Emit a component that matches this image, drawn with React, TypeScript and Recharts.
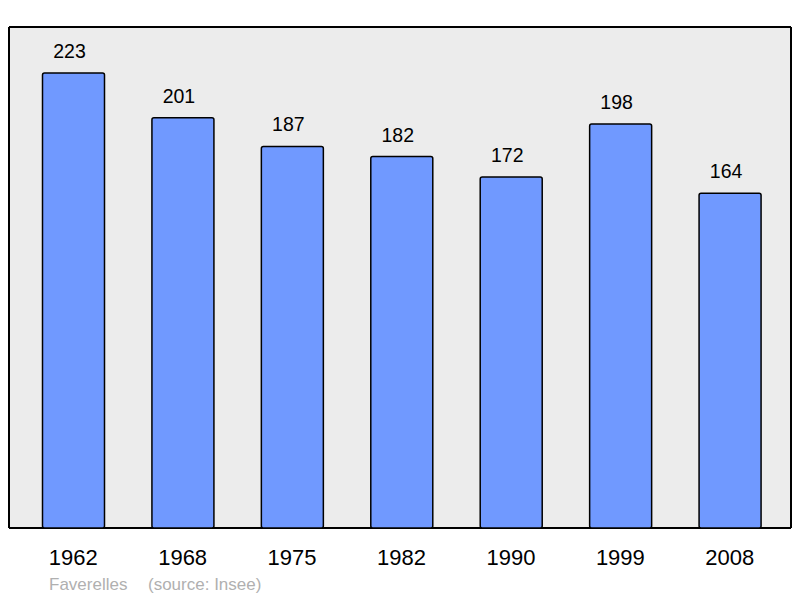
import React from "react";
import { BarChart, Bar, XAxis, YAxis, LabelList, CartesianGrid } from "recharts";

const years = ["1962", "1968", "1975", "1982", "1990", "1999", "2008"];
const population = [223, 201, 187, 182, 172, 198, 164];
const commune = "Faverelles";
const source = "(source: Insee)";
const yMax = 245.5;

const data = years.map((y, i) => ({ year: y, value: population[i] }));

const FONT = "'Liberation Sans', Arial, sans-serif";

const YearTick = (props: any) => {
  const { x, payload } = props;
  return (
    <text x={x} y={565} textAnchor="middle" fontSize={22} fontFamily={FONT} fill="#000">
      {payload.value}
    </text>
  );
};

const hFrame = (p: any) => {
  const o = p.offset;
  return [o.top, o.top + o.height];
};
const vFrame = (p: any) => {
  const o = p.offset;
  return [o.left, o.left + o.width];
};

export default function App() {
  return (
    <div style={{ position: "absolute", left: 0, top: 0, width: 800, height: 598, background: "#fff" }}>
      <BarChart
        width={800}
        height={598}
        data={data}
        margin={{ top: 27, right: 9, bottom: 40, left: 9 }}
      >
        <CartesianGrid
          fill="#ececec"
          stroke="#000"
          strokeWidth={2}
          horizontalCoordinatesGenerator={hFrame}
          verticalCoordinatesGenerator={vFrame}
          syncWithTicks={false}
        />
        <XAxis
          dataKey="year"
          axisLine={false}
          tickLine={false}
          height={30}
          tick={<YearTick />}
          padding={{ left: 9.5, right: 6.5 }}
          interval={0}
        />
        <YAxis hide domain={[0, yMax]} />
        <Bar
          dataKey="value"
          fill="#7099ff"
          stroke="#000"
          strokeWidth={1.5}
          barSize={62}
          radius={2}
          isAnimationActive={false}
        >
          <LabelList
            dataKey="value"
            position="top"
            offset={15}
            dx={-4}
            fontSize={19.5}
            fontFamily={FONT}
            fill="#000"
          />
        </Bar>
      </BarChart>
      <svg width={800} height={598} style={{ position: "absolute", left: 0, top: 0, pointerEvents: "none" }}>
        <text x={49} y={590} fontSize={17} fontFamily={FONT} fill="#b0b0b0">{commune}</text>
        <text x={148} y={590} fontSize={17} fontFamily={FONT} fill="#b0b0b0">{source}</text>
      </svg>
    </div>
  );
}
